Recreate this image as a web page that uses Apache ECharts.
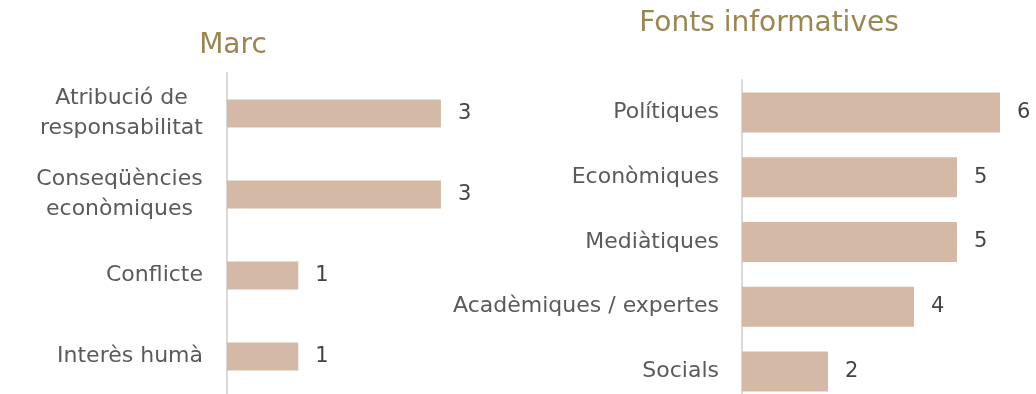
<!DOCTYPE html>
<html>
<head>
<meta charset="utf-8">
<script src="https://cdn.jsdelivr.net/npm/echarts@6/dist/echarts.min.js"></script>
<style>
  html, body { margin: 0; padding: 0; background: #ffffff; }
  #chart { width: 1036px; height: 394px; }
</style>
</head>
<body>
<div id="chart"></div>
<script>
// Framing categories and counts
const marcCategories = ['Atribució de\nresponsabilitat', 'Conseqüències\neconòmiques', 'Conflicte', 'Interès humà'];
const marcValues = [3, 3, 1, 1];

// Information sources and counts
const fontsCategories = ['Polítiques', 'Econòmiques', 'Mediàtiques', 'Acadèmiques / expertes', 'Socials'];
const fontsValues = [6, 5, 5, 4, 2];

const FONT = '"DejaVu Sans", "Noto Sans", sans-serif';
const LABEL_SIZE = 22;
const VALUE_SIZE = 21;
const BAR_COLOR = '#d3b9a6';
const TEXT_COLOR = '#5a5a5a';
const TITLE_COLOR = '#9a8652';

// measure text so multi-line labels can be centred as a block
const ctx = document.createElement('canvas').getContext('2d');
ctx.font = LABEL_SIZE + 'px ' + FONT;
function blockWidth(v) {
  return Math.ceil(Math.max.apply(null, v.split('\n').map(l => ctx.measureText(l).width)));
}
function centredLabel(v) {
  const lines = v.split('\n');
  if (lines.length === 1) return v;
  const w = blockWidth(v);
  return lines.map(l => '{c' + w + '|' + l + '}').join('\n');
}
const rich = {};
marcCategories.forEach(c => {
  if (c.indexOf('\n') >= 0) {
    const w = blockWidth(c);
    rich['c' + w] = { width: w, align: 'center', fontSize: LABEL_SIZE, fontFamily: FONT, color: TEXT_COLOR, lineHeight: 30 };
  }
});

const marcUnit = 71.3, fontsUnit = 43;
const marcMax = 4, fontsMax = 7;

const chart = echarts.init(document.getElementById('chart'), null, { renderer: 'canvas' });
chart.setOption({
  backgroundColor: '#ffffff',
  animation: false,
  textStyle: { fontFamily: FONT },
  title: [
    { text: 'Marc', left: 228, top: 27, textAlign: 'center',
      textStyle: { color: TITLE_COLOR, fontSize: 28, fontWeight: 'normal', fontFamily: FONT } },
    { text: 'Fonts informatives', left: 764, top: 5, textAlign: 'center',
      textStyle: { color: TITLE_COLOR, fontSize: 28, fontWeight: 'normal', fontFamily: FONT } }
  ],
  grid: [
    { left: 227, top: 73, width: marcMax * marcUnit, height: 324, outerBoundsMode: 'none' },
    { left: 742, top: 80, width: fontsMax * fontsUnit, height: 323.75, outerBoundsMode: 'none' }
  ],
  xAxis: [
    { gridIndex: 0, type: 'value', min: 0, max: marcMax, show: false },
    { gridIndex: 1, type: 'value', min: 0, max: fontsMax, show: false }
  ],
  yAxis: [
    { gridIndex: 0, type: 'category', inverse: true, data: marcCategories,
      axisLine: { show: true, lineStyle: { color: '#d9d9d9', width: 2 } },
      axisTick: { show: false },
      axisLabel: { margin: 24, color: TEXT_COLOR, fontSize: LABEL_SIZE, fontFamily: FONT,
        lineHeight: 30, formatter: centredLabel, rich: rich } },
    { gridIndex: 1, type: 'category', inverse: true, data: fontsCategories,
      axisLine: { show: true, lineStyle: { color: '#d9d9d9', width: 2 } },
      axisTick: { show: false },
      axisLabel: { margin: 23, color: TEXT_COLOR, fontSize: LABEL_SIZE, fontFamily: FONT } }
  ],
  series: [
    { type: 'bar', xAxisIndex: 0, yAxisIndex: 0, data: marcValues, barWidth: 28,
      itemStyle: { color: BAR_COLOR },
      label: { show: true, position: 'right', distance: 17, color: '#444444', fontSize: VALUE_SIZE, fontFamily: FONT } },
    { type: 'bar', xAxisIndex: 1, yAxisIndex: 1, data: fontsValues, barWidth: 40,
      itemStyle: { color: BAR_COLOR },
      label: { show: true, position: 'right', distance: 17, color: '#444444', fontSize: VALUE_SIZE, fontFamily: FONT } }
  ]
});
</script>
</body>
</html>
